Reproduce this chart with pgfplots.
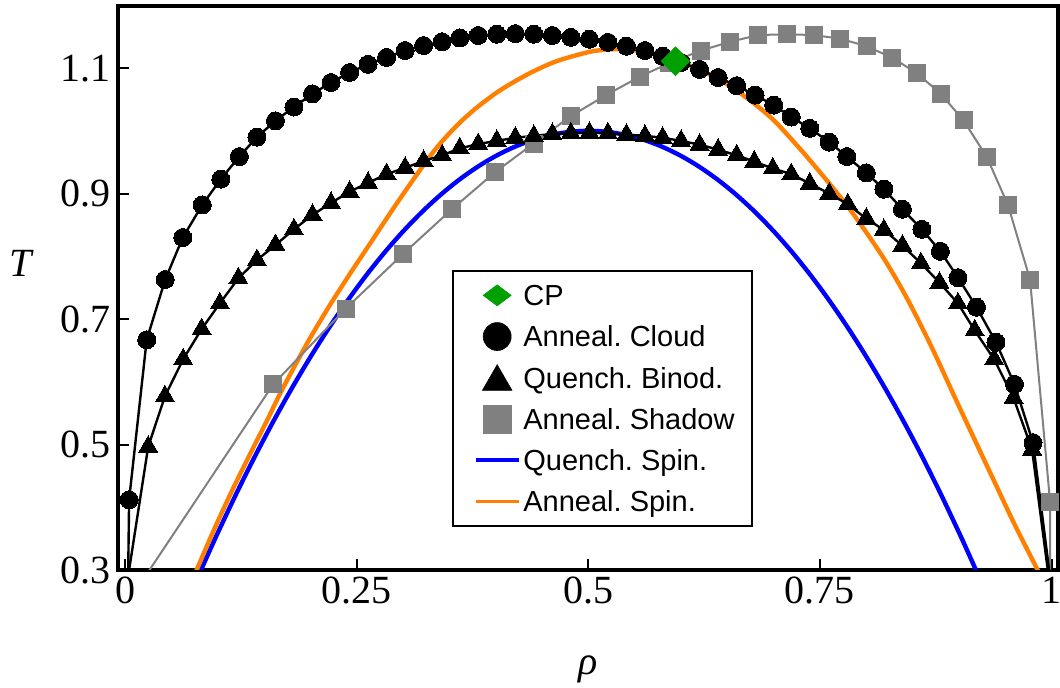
\documentclass[border=0pt]{standalone}
\usepackage{fontspec}
\setmainfont{Liberation Serif}
\setsansfont{Liberation Sans}
\usepackage{pgfplots}
\pgfplotsset{compat=1.18}
\definecolor{cpgreen}{RGB}{0,160,0}
\definecolor{sqgray}{RGB}{128,128,128}
\definecolor{myorange}{RGB}{255,128,0}
\pgfplotsset{
 markimg/.style={legend image code/.code={\path[draw=none,fill=none] (0pt,-1pt) rectangle (26pt,1pt); \draw[##1] plot coordinates {(15.25pt,0pt)};}},
 markimgdown/.style={legend image code/.code={\path[draw=none,fill=none] (0pt,-1pt) rectangle (26pt,1pt); \draw[##1] plot coordinates {(15.25pt,-2pt)};}},
 lineimg/.style={legend image code/.code={\draw[##1] (4.5pt,0pt) -- (26pt,0pt);}},
}
\frenchspacing
\begin{document}
\begin{tikzpicture}
\useasboundingbox (-59pt,-59pt) rectangle (471pt,285pt);
\begin{axis}[
 at={(0,0)}, anchor=south west,
 scale only axis, width=470pt, height=282pt,
 xmin=-0.008, xmax=1.007, ymin=0.3, ymax=1.199,
 axis line style={line width=1.7pt},
 tick align=inside, xtick pos=bottom, ytick pos=left,
 major tick length=5.5pt,
 tick style={line width=1pt, black},
 xtick={0,0.25,0.5,0.75,1}, xticklabels={0,0.25,0.5,0.75,1},
 ytick={0.3,0.5,0.7,0.9,1.1}, yticklabels={0.3,0.5,0.7,0.9,1.1},
 tick label style={font=\fontsize{20}{24}\selectfont},
 /pgf/number format/assume math mode=true,
 every axis y label/.style={at={(rel axis cs:0,0.544)}, anchor=center, xshift=-48pt},
 every axis x label/.style={at={(rel axis cs:0.5,0)}, anchor=base, yshift=-52.5pt},
 ylabel={\fontsize{20}{24}\selectfont\textit{T}},
 xlabel={\fontsize{20}{24}\selectfont\textit{ρ}},
 legend cell align=left,
 legend style={
   at={(rel axis cs:0.355,0.532)}, anchor=north west,
   draw=black, line width=1pt,
   font=\sffamily\fontsize{14.5}{17}\selectfont,
   inner xsep=7pt, inner ysep=3pt,
   row sep=2.2pt,
   nodes={inner xsep=1.5pt, inner ysep=2pt, text height=12.4pt, text depth=2pt},
 },
]
% legend images
\addlegendimage{only marks, mark=diamond*, mark size=7pt, mark options={rotate=90, fill=cpgreen, draw=cpgreen, line width=0.3pt}, markimg}
\addlegendentry{CP}
\addlegendimage{only marks, mark=*, mark size=7pt, mark options={fill=black, draw=black, line width=0.3pt}, markimg}
\addlegendentry{Anneal.\ Cloud}
\addlegendimage{only marks, mark=triangle*, mark size=8.5pt, mark options={fill=black, draw=black, line width=0.3pt}, markimgdown}
\addlegendentry{Quench.\ Binod.}
\addlegendimage{only marks, mark=square*, mark size=7pt, mark options={fill=sqgray, draw=sqgray, line width=0.3pt}, markimg}
\addlegendentry{Anneal.\ Shadow}
\addlegendimage{blue, line width=1.7pt, lineimg}
\addlegendentry{Quench.\ Spin.}
\addlegendimage{myorange, line width=1.7pt, lineimg}
\addlegendentry{Anneal.\ Spin.}

% Quench. Spin.
\addplot[blue, line width=2.2pt, smooth] coordinates {
(0.07,0.2604) (0.08,0.2944) (0.09,0.3276) (0.10,0.3600) (0.12,0.4224) (0.14,0.4816) (0.16,0.5376)
(0.18,0.5904) (0.20,0.6400) (0.22,0.6864) (0.24,0.7296) (0.26,0.7696) (0.28,0.8064)
(0.30,0.8400) (0.32,0.8704) (0.34,0.8976) (0.36,0.9216) (0.38,0.9424) (0.40,0.9600)
(0.42,0.9744) (0.44,0.9856) (0.46,0.9936) (0.48,0.9984) (0.50,1.0000) (0.52,0.9984)
(0.54,0.9936) (0.56,0.9856) (0.58,0.9744) (0.60,0.9600) (0.62,0.9424) (0.64,0.9216)
(0.66,0.8976) (0.68,0.8704) (0.70,0.8400) (0.72,0.8064) (0.74,0.7696) (0.76,0.7296)
(0.78,0.6864) (0.80,0.6400) (0.82,0.5904) (0.84,0.5376) (0.86,0.4816) (0.88,0.4224)
(0.90,0.3600) (0.91,0.3276) (0.92,0.2944) (0.93,0.2604)
};
% Anneal. Spin.
\addplot[myorange, line width=2.2pt, smooth] coordinates {
(0.070,0.276) (0.0769,0.300) (0.095,0.362) (0.115,0.426) (0.135,0.486) (0.1525,0.537)
(0.1687,0.586) (0.1957,0.660) (0.219,0.718) (0.2424,0.772) (0.2676,0.828) (0.291,0.880)
(0.3145,0.930) (0.3307,0.963) (0.343,0.985) (0.361,1.013) (0.381,1.039) (0.406,1.066)
(0.4368,1.092) (0.4656,1.111) (0.5016,1.126) (0.526,1.130) (0.545,1.129)
(0.565,1.125) (0.585,1.117) (0.60,1.110) (0.625,1.094) (0.65,1.074) (0.675,1.048)
(0.70,1.017) (0.728,0.972) (0.75,0.934) (0.7716,0.895) (0.793,0.853) (0.82,0.794)
(0.8436,0.734) (0.87,0.657) (0.901,0.558) (0.937,0.445) (0.96,0.373) (0.985,0.300) (0.992,0.279)
};
% Anneal. Shadow
\addplot[sqgray, line width=1pt, mark=square*, mark size=4.25pt, mark options={fill=sqgray, draw=sqgray, line width=0.3pt}] coordinates {
(0.003,0.249) (0.1596,0.596) (0.2381,0.717) (0.300,0.804) (0.3525,0.875) (0.399,0.934)
(0.441,0.980) (0.481,1.0235) (0.519,1.057) (0.555,1.086) (0.587,1.108) (0.6215,1.128)
(0.653,1.142) (0.683,1.1526) (0.714,1.154) (0.7435,1.1526) (0.7716,1.147) (0.800,1.135)
(0.8274,1.117) (0.854,1.0925) (0.880,1.0597) (0.9048,1.017) (0.930,0.9587) (0.953,0.8817)
(0.9768,0.763) (0.9984,0.409) (0.9986,0.249)
};
% Anneal. Cloud
\addplot[black, line width=1.2pt, mark=*, mark size=4.5pt, mark options={line width=0pt}] coordinates {
(0.0026,0.25) (0.004,0.412) (0.023,0.667) (0.043,0.763) (0.062,0.830) (0.083,0.882)
(0.103,0.923) (0.123,0.959) (0.142,0.990) (0.162,1.016) (0.182,1.038) (0.202,1.059)
(0.222,1.077) (0.242,1.093) (0.262,1.106) (0.282,1.117) (0.302,1.128) (0.322,1.136)
(0.342,1.142) (0.361,1.148) (0.381,1.152) (0.401,1.154) (0.421,1.155) (0.441,1.154)
(0.461,1.152) (0.481,1.149) (0.501,1.146) (0.521,1.141) (0.541,1.135) (0.561,1.128)
(0.580,1.119) (0.600,1.109) (0.620,1.098) (0.640,1.085) (0.660,1.072) (0.680,1.057)
(0.700,1.041) (0.719,1.022) (0.739,1.004) (0.760,0.982) (0.779,0.959) (0.800,0.933)
(0.819,0.907) (0.839,0.875) (0.860,0.843) (0.880,0.808) (0.899,0.766) (0.919,0.719)
(0.940,0.663) (0.960,0.596) (0.980,0.503) (1.000,0.27)
};
% Quench. Binod.
\addplot[black, line width=1.2pt, mark=triangle*, mark size=5.5pt, mark options={line width=0pt}] coordinates {
(0.0,0.262) (0.0246,0.4965) (0.0427,0.577) (0.0624,0.636) (0.0823,0.684) (0.102,0.725)
(0.122,0.765) (0.142,0.794) (0.162,0.818) (0.182,0.843) (0.202,0.866) (0.222,0.885)
(0.242,0.903) (0.262,0.917) (0.282,0.931) (0.302,0.941) (0.322,0.952) (0.342,0.961)
(0.361,0.972) (0.381,0.979) (0.401,0.984) (0.421,0.989) (0.441,0.992) (0.461,0.995)
(0.481,0.996) (0.501,0.997) (0.521,0.996) (0.541,0.994) (0.561,0.992) (0.580,0.989)
(0.600,0.984) (0.620,0.978) (0.640,0.970) (0.660,0.961) (0.679,0.951) (0.699,0.940)
(0.719,0.931) (0.739,0.916) (0.760,0.900) (0.780,0.883) (0.800,0.860) (0.819,0.842)
(0.839,0.817) (0.859,0.789) (0.879,0.758) (0.899,0.725) (0.917,0.682) (0.938,0.636)
(0.959,0.574) (0.979,0.492) (0.9995,0.26)
};
% CP
\addplot[only marks, mark=square*, mark size=5.1pt, mark options={rotate=45, fill=cpgreen, draw=cpgreen, line width=0.3pt}] coordinates {(0.594,1.111)};
\end{axis}
\end{tikzpicture}
\end{document}
